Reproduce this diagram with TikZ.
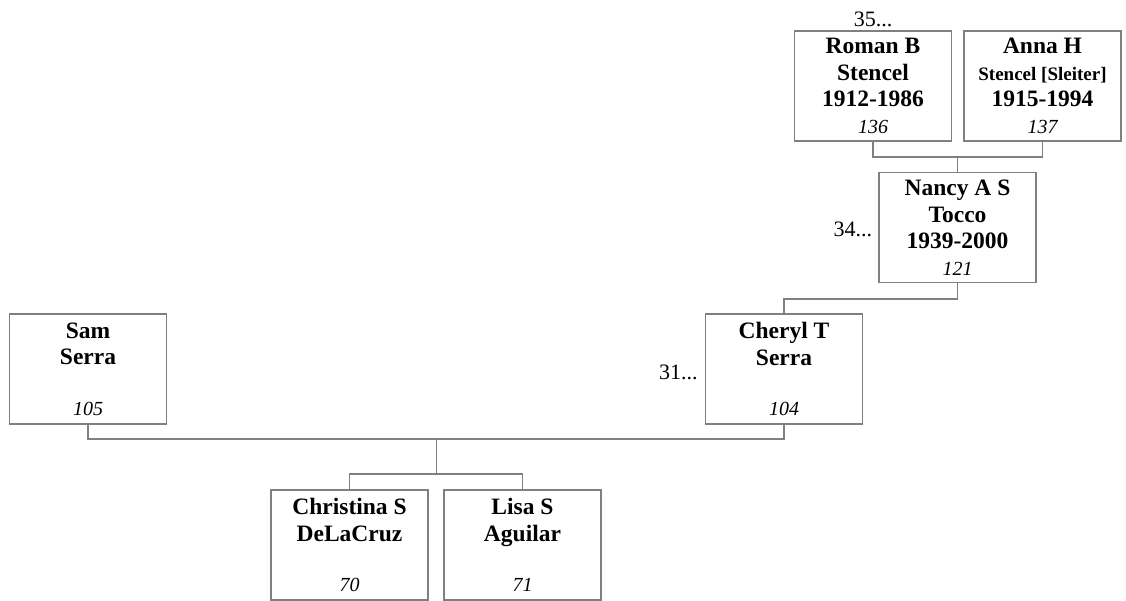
\documentclass[tikz,border=0pt]{standalone}
\usepackage{fontspec}
\setmainfont{Liberation Serif}
\usetikzlibrary{positioning}

\newcommand{\idno}[1]{{\normalfont\itshape\fontsize{20}{26.5}\selectfont #1}}

\begin{document}
\begin{tikzpicture}[x=1pt,y=-1pt,
	person/.style={draw=gray,line width=1.3pt,minimum width=157pt,minimum height=110pt,
		inner sep=0pt,align=center,font=\fontsize{23.5}{26.5}\selectfont\bfseries},
	link/.style={draw=gray,line width=1.3pt},
	gen/.style={inner sep=0pt,font=\fontsize{22}{26}\selectfont}]
	\useasboundingbox (0,0) rectangle (1126,601);
	% grandparents
	\node[person] (roman) at (873,86) {Roman B\\Stencel\\1912-1986\\\idno{136}};
	\node[person] (anna) at (1042.5,86) {Anna H\\{\fontsize{19}{26.5}\selectfont Stencel [Sleiter]}\\1915-1994\\\idno{137}};
	\node[person] (nancy) at (957.5,227.5) {Nancy A S\\Tocco\\1939-2000\\\idno{121}};
	% parents
	\node[person] (sam) at (88,369) {Sam\\Serra\\[24pt]\idno{105}};
	\node[person] (cheryl) at (784,369) {Cheryl T\\Serra\\[24pt]\idno{104}};
	% children
	\node[person] (christina) at (349.5,545) {Christina S\\DeLaCruz\\[24pt]\idno{70}};
	\node[person] (lisa) at (522.5,545) {Lisa S\\Aguilar\\[24pt]\idno{71}};
	\node[gen,above=3pt of roman.north] (g35) {35...};
	\node[gen,left=6pt of nancy.west,yshift=-2pt] (g34) {34...};
	\node[gen,left=7pt of cheryl.west,yshift=-3pt] (g31) {31...};
	\coordinate (top) at (957.5,157);
	\coordinate (couple) at (436.5,439);
	\coordinate (kids) at (436.5,474);
	\draw[link] (roman.south) |- (top) -| (anna.south);
	\draw[link] (top) -- (nancy.north);
	\draw[link] (nancy.south) -- ++(0,16) -| (cheryl.north);
	\draw[link] (sam.south) |- (couple) -| (cheryl.south);
	\draw[link] (couple) -- (kids);
	\draw[link] (christina.north) |- (kids) -| (lisa.north);
\end{tikzpicture}
\end{document}
